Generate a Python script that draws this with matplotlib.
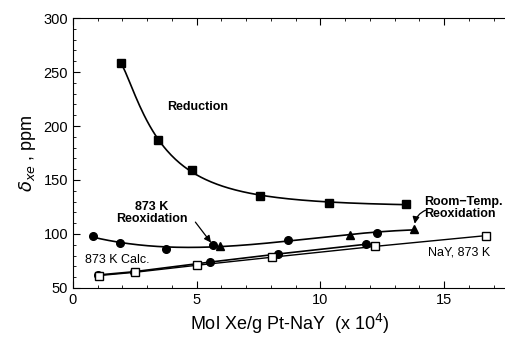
import matplotlib.pyplot as plt
import numpy as np

plt.rcParams['font.family'] = ['Liberation Sans', 'DejaVu Sans']

# Данные: восстановление
red_x = np.array([1.95, 3.45, 4.8, 7.55, 10.35, 13.45])
red_y = np.array([258, 187, 159, 135, 129, 128])

# 873 K реокисление (кружки)
reox_x = np.array([0.8, 1.9, 3.75, 5.65, 8.7, 12.3])
reox_y = np.array([98, 91.5, 86.5, 89.5, 94, 101])

# реокисление при комнатной температуре (треугольники)
rt_x = np.array([5.95, 11.2, 13.8])
rt_y = np.array([88.5, 99, 104.5])

# 873 K Calc. (кружки)
calc_x = np.array([1.0, 2.45, 5.55, 8.3, 11.85])
calc_y = np.array([62, 65, 74, 81.5, 90.5])

# NaY, 873 K (пустые квадраты)
nay_x = np.array([1.05, 2.5, 5.0, 8.05, 12.2, 16.7])
nay_y = np.array([61.5, 64.5, 71, 78.5, 88.5, 98.5])

fig = plt.figure(figsize=(5.06, 3.4), dpi=100)
ax = fig.add_axes([0.144, 0.153, 0.856, 0.794])

# сглаженные кривые
xs = np.linspace(red_x.min(), red_x.max(), 200)
c = np.polyfit(1 / red_x, red_y, 3)
ax.plot(xs, np.polyval(c, 1 / xs), color='black', lw=1.2)
ax.plot(red_x, red_y, 's', color='black', ms=5.5)

ox = np.concatenate([reox_x, rt_x])
oy = np.concatenate([reox_y, rt_y])
c2 = np.polyfit(ox, oy, 3)
xs2 = np.linspace(ox.min(), ox.max(), 200)
ax.plot(xs2, np.polyval(c2, xs2), color='black', lw=1.2)
ax.plot(reox_x, reox_y, 'o', color='black', ms=5.5)
ax.plot(rt_x, rt_y, '^', color='black', ms=5.5)

ax.plot(calc_x, calc_y, 'o-', color='black', ms=5.5, lw=1.2)
ax.plot(nay_x, nay_y, 's-', color='black', mfc='white', ms=5.5, lw=1.0)

# подписи
ax.text(5.05, 218, 'Reduction', fontsize=9, ha='center', va='center', fontweight='bold')
ax.text(3.2, 119, '873 K\nReoxidation', fontsize=9, ha='center', va='center',
        linespacing=1.0, fontweight='bold')
ax.annotate('', xy=(5.65, 90), xytext=(4.95, 111),
            arrowprops=dict(arrowstyle='-|>', color='black', lw=0.9,
                            shrinkA=0, shrinkB=2))
ax.text(1.8, 76, '873 K Calc.', fontsize=9, ha='center', va='center')
ax.text(14.2, 124.5, 'Room\u2212Temp.\nReoxidation', fontsize=9, ha='left', va='center',
        linespacing=1.0, fontweight='bold')
ax.annotate('', xy=(13.8, 107), xytext=(14.25, 122),
            arrowprops=dict(arrowstyle='-|>', color='black', lw=0.9,
                            shrinkA=0, shrinkB=2,
                            connectionstyle='arc3,rad=0.3'))
ax.text(15.6, 83, 'NaY, 873 K', fontsize=9, ha='center', va='center')

ax.set_xlim(0, 17.5)
ax.set_ylim(50, 300)
ax.set_xticks([0, 5, 10, 15])
ax.set_xticks(np.arange(0, 18, 1), minor=True)
ax.set_yticks([50, 100, 150, 200, 250, 300])
ax.set_yticks(np.arange(50, 301, 10), minor=True)
ax.tick_params(which='both', direction='in', top=True)
ax.tick_params(which='major', length=5, labelsize=10.5)
ax.tick_params(which='minor', length=2.5)
ax.spines['right'].set_visible(False)

ax.set_xlabel('Mol Xe/g Pt-NaY  (x 10$^4$)', fontsize=13)
ax.set_ylabel(r'$\delta_{xe}$ , ppm', fontsize=13)

fig.savefig('out.png', dpi=100)
